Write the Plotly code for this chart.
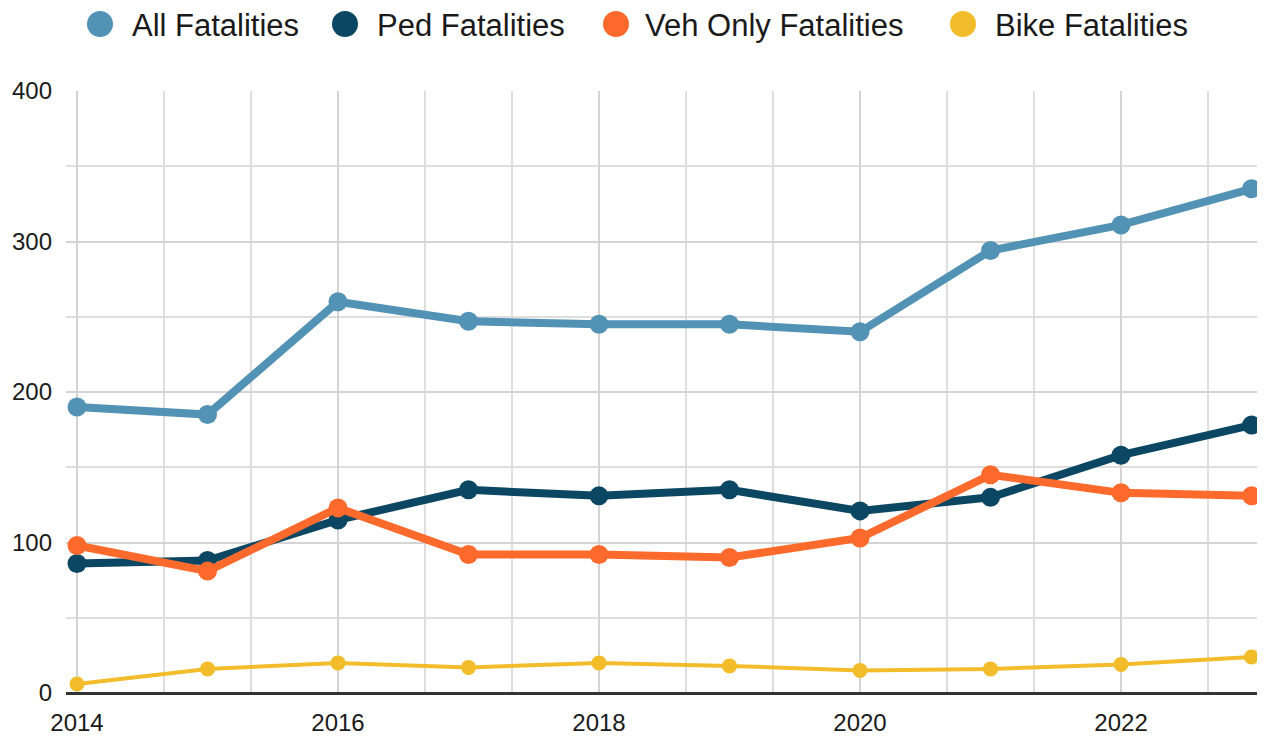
import plotly.graph_objects as go

years = [2014, 2015, 2016, 2017, 2018, 2019, 2020, 2021, 2022, 2023]
all_fatalities = [190, 185, 260, 247, 245, 245, 240, 294, 311, 335]
ped_fatalities = [86, 88, 115, 135, 131, 135, 121, 130, 158, 178]
veh_only_fatalities = [98, 81, 123, 92, 92, 90, 103, 145, 133, 131]
bike_fatalities = [6, 16, 20, 17, 20, 18, 15, 16, 19, 24]

series_names = ["All Fatalities", "Ped Fatalities", "Veh Only Fatalities", "Bike Fatalities"]
series_values = [all_fatalities, ped_fatalities, veh_only_fatalities, bike_fatalities]
colors = ["#5292b4", "#0b4663", "#fd6a2b", "#f2bc2a"]
line_widths = [8, 8, 8, 4]
marker_sizes = [19, 19, 19, 15]

y_tick_vals = [0, 100, 200, 300, 400]
x_tick_vals = [2014, 2016, 2018, 2020, 2022]

# page body has an 8px margin, so figure coords = window coords - 8
OFF = 8
W, H = 1272, 736
L, R, T, B = 66 - OFF, 1272 - (1257 - OFF), 91 - OFF, 736 - (693 - OFF)
PW, PH = W - L - R, H - T - B

def px_x(p):
    return (p - OFF - L) / PW

def px_y(p):
    return (H - B - (p - OFF)) / PH

fig = go.Figure()
for name, vals, c, lw, ms in zip(series_names, series_values, colors, line_widths, marker_sizes):
    fig.add_trace(go.Scatter(
        x=years, y=vals, name=name, mode="lines+markers",
        line=dict(color=c, width=lw),
        marker=dict(color=c, size=ms),
        showlegend=False,
    ))

# manual legend
legend_circle_px = [100, 345, 616, 963]
legend_text_px = [130, 375, 643, 993]
shapes = []
annotations = []
for name, c, cx, tx in zip(series_names, colors, legend_circle_px, legend_text_px):
    shapes.append(dict(
        type="circle", xref="paper", yref="paper",
        xsizemode="pixel", ysizemode="pixel",
        xanchor=px_x(cx), yanchor=px_y(24),
        x0=-13, x1=13, y0=-13, y1=13,
        fillcolor=c, line=dict(width=0),
    ))
    annotations.append(dict(
        text=name, xref="paper", yref="paper",
        x=px_x(tx), y=px_y(25), xanchor="left", yanchor="middle",
        showarrow=False, font=dict(size=31, color="#1a1a1a"),
    ))

fig.update_layout(
    width=W, height=H,
    margin=dict(l=L, r=R, t=T, b=B, pad=0, autoexpand=False),
    paper_bgcolor="white", plot_bgcolor="white",
    font=dict(family="Liberation Sans, Arial, sans-serif", color="#1a1a1a"),
    shapes=shapes, annotations=annotations,
    showlegend=False,
)
fig.update_xaxes(
    range=[2013.9157, 2023.042],
    tickvals=x_tick_vals, ticktext=[str(v) for v in x_tick_vals],
    showgrid=True, gridcolor="#d4d4d4", gridwidth=1.5,
    minor=dict(tick0=2014, dtick=2/3, showgrid=True, gridcolor="#dedede", gridwidth=1.5),
    tickfont=dict(size=24),
    zeroline=False, showline=False, ticks="",
    ticklabelstandoff=13, automargin=False,
)
fig.update_yaxes(
    range=[0, 400],
    tickvals=y_tick_vals, ticktext=[str(v) for v in y_tick_vals],
    showgrid=True, gridcolor="#d4d4d4", gridwidth=1.5,
    minor=dict(dtick=50, tick0=0, showgrid=True, gridcolor="#dedede", gridwidth=1.5),
    tickfont=dict(size=24),
    zeroline=True, zerolinecolor="#333333", zerolinewidth=2.5,
    showline=False, ticks="",
    ticklabelstandoff=13, automargin=False,
)

fig.write_html("out.html")
